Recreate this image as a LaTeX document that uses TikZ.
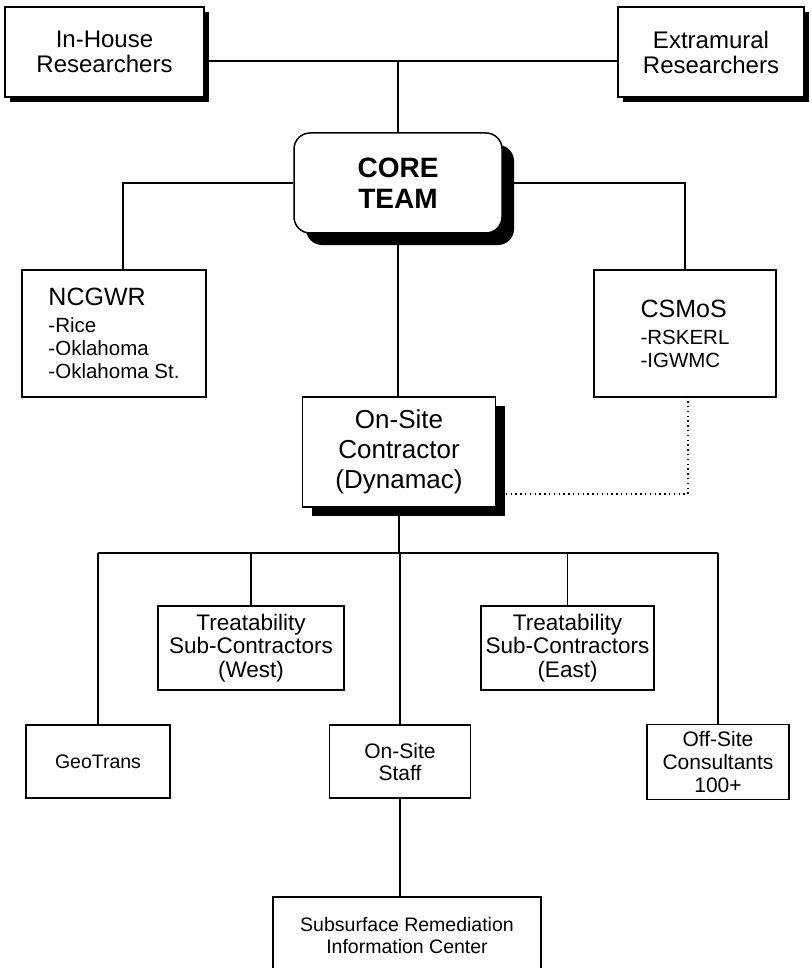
\documentclass[tikz,border=0pt]{standalone}
\usepackage{fontspec}
\setmainfont{Liberation Sans}
\usetikzlibrary{shadows}

\tikzset{
  box/.style={draw, line width=1.5pt, fill=white, align=center, inner sep=0pt},
  shadowbox/.style={box, drop shadow={shadow xshift=#1, shadow yshift=-#1, fill=black, opacity=1}},
  shadowbox/.default=5pt,
  link/.style={line width=1.3pt},
  dotlink/.style={line width=1.2pt, dash pattern=on 1.3pt off 3.5pt},
}

\begin{document}
\begin{tikzpicture}[x=1pt,y=-1pt]
\path[use as bounding box, clip] (0,0) rectangle (811,968);
%% researchers
\node[shadowbox, minimum width=199pt, minimum height=90pt, font=\fontsize{24}{25}\selectfont] (inhouse) at (104.5,52) {In-House\\Researchers};
\node[shadowbox, minimum width=186pt, minimum height=90pt, font=\fontsize{24}{25}\selectfont] (extra) at (711,52) {Extramural\\Researchers};
%% core team
\node[box, rounded corners=16pt, drop shadow={shadow xshift=12pt, shadow yshift=-12pt, fill=black, opacity=1}, minimum width=208pt, minimum height=100pt, font=\fontsize{28}{31}\selectfont\bfseries] (core) at (398,183) {CORE\\TEAM};
%% centres
\node[box, align=left, minimum width=184pt, minimum height=127pt, font=\fontsize{20.5}{23}\selectfont] (ncgwr) at (114,333.5) {{\fontsize{25}{27}\selectfont NCGWR}\\[4pt]-Rice\\-Oklahoma\\-Oklahoma St.};
\node[box, align=left, minimum width=182pt, minimum height=127pt, font=\fontsize{20.5}{23}\selectfont] (csmos) at (685,333.5) {{\fontsize{25}{27}\selectfont CSMoS}\\[4pt]-RSKERL\\-IGWMC};
\node[shadowbox=9pt, minimum width=193pt, minimum height=110pt, font=\fontsize{26}{30}\selectfont] (contractor) at (399,452) {On-Site\\Contractor\\(Dynamac)};
%% sub-contractors
\node[box, minimum width=186pt, minimum height=84pt, font=\fontsize{22.5}{23.5}\selectfont] (west) at (251,648) {Treatability\\Sub-Contractors\\(West)};
\node[box, minimum width=173pt, minimum height=84pt, font=\fontsize{22.5}{23.5}\selectfont] (east) at (567.5,648) {Treatability\\Sub-Contractors\\(East)};
\node[box, minimum width=144pt, minimum height=73pt, font=\fontsize{19.5}{21}\selectfont] (geo) at (98,761.5) {GeoTrans};
\node[box, minimum width=141pt, minimum height=73pt, font=\fontsize{21}{22}\selectfont] (staff) at (400,761.5) {On-Site\\Staff};
\node[box, minimum width=142pt, minimum height=75pt, font=\fontsize{21}{23}\selectfont] (offsite) at (718,762) {Off-Site\\Consultants\\100+};
\node[box, minimum width=268pt, minimum height=78pt, font=\fontsize{19.5}{22}\selectfont] (sric) at (407,936) {Subsurface Remediation\\Information Center};
%% connectors
\coordinate (topbus) at (398,61);
\coordinate (lowbus) at (399,553);
\draw[link] (inhouse.east |- topbus) -- (extra.west |- topbus);
\draw[link] (topbus) -- (core.north);
\draw[link] (core.west) -| ([xshift=9pt]ncgwr.north);
\draw[link] (core.east) -| (csmos.north);
\draw[link] (core.south) -- (core.south |- contractor.north);
\draw[dotlink] ([yshift=-42pt]contractor.east) -| ([xshift=3pt]csmos.south);
%%
\draw[link] (contractor.south) -- (lowbus);
\draw[link] (geo.north |- lowbus) -- (offsite.north |- lowbus);
\foreach \n in {geo,west,staff,east,offsite}
  \draw[link] (\n.north |- lowbus) -- (\n.north);
\draw[link] (staff.south) -- (staff.south |- sric.north);
\end{tikzpicture}
\end{document}
